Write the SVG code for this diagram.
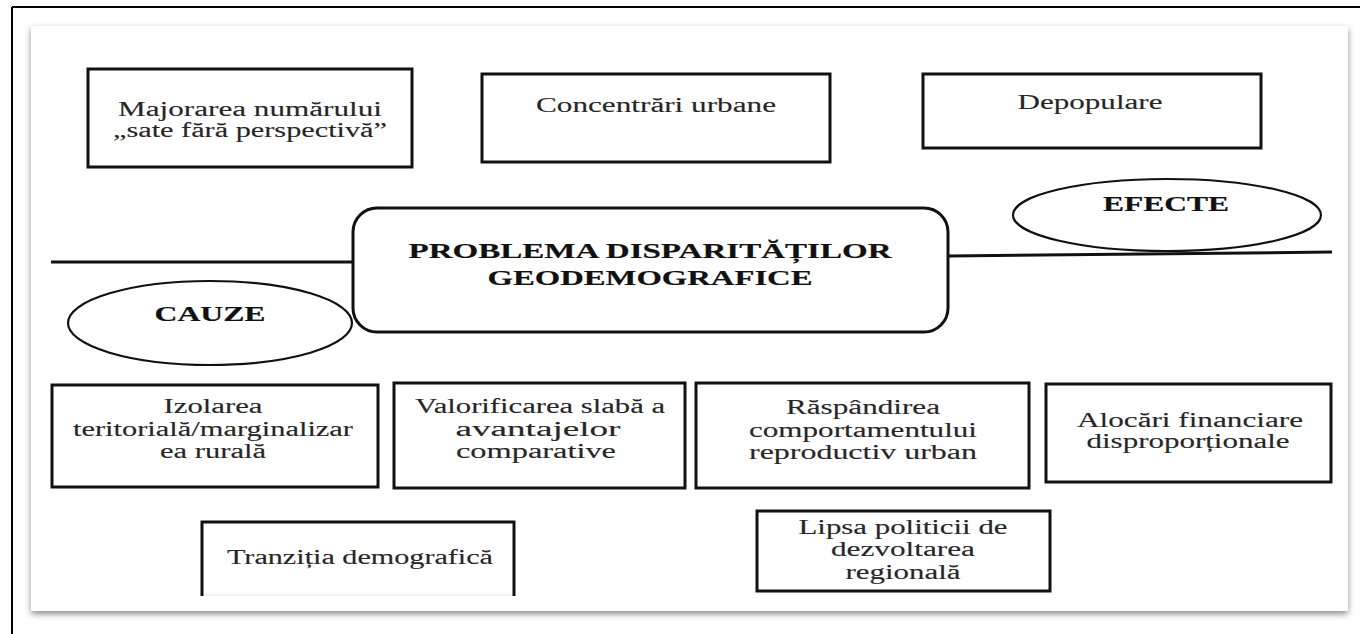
<svg xmlns="http://www.w3.org/2000/svg" width="1360" height="634" viewBox="0 0 1360 634" font-family="Liberation Serif, DejaVu Serif, serif">
<defs>
<filter id="sh" x="-3%" y="-3%" width="106%" height="108%">
<feDropShadow dx="0" dy="3" stdDeviation="3" flood-color="#000" flood-opacity="0.45"/>
</filter>
<clipPath id="clipLipsa"><rect x="757" y="511" width="293" height="73"/></clipPath>
</defs>
<style>
.box{fill:#fff;stroke:#111;stroke-width:3}
.ell{fill:#fff;stroke:#111;stroke-width:2.2}
.t{font-family:'Liberation Serif','DejaVu Serif',serif;font-size:20px;fill:#262626;stroke:#262626;stroke-width:0.12;text-anchor:middle}
.b{font-family:'Liberation Serif','DejaVu Serif',serif;font-size:21px;font-weight:bold;fill:#111;stroke:#111;stroke-width:0.2;text-anchor:middle}
.ln{stroke:#111;stroke-width:3;fill:none}
</style>
<rect width="1360" height="634" fill="#fff"/>
<path d="M12 7 H1360 M12 7 V634" stroke="#000" stroke-width="2" fill="none"/>
<rect x="31" y="26" width="1317" height="585" fill="#fff" filter="url(#sh)"/>

<g id="connectors">
<path class="ln" d="M51 262 H353"/>
<path class="ln" d="M949 256 L1332 252"/>
</g>

<g id="n-majorarea">
<rect class="box" x="88" y="69" width="324" height="98"/>
<text class="t" x="250" y="116" textLength="264" lengthAdjust="spacingAndGlyphs">Majorarea numărului</text>
<text class="t" x="250" y="137" textLength="274" lengthAdjust="spacingAndGlyphs">„sate fără perspectivă”</text>
</g>

<g id="n-concentrari">
<rect class="box" x="482" y="74" width="348" height="88"/>
<text class="t" x="656" y="112" textLength="240" lengthAdjust="spacingAndGlyphs">Concentrări urbane</text>
</g>

<g id="n-depopulare">
<rect class="box" x="923" y="74" width="338" height="74"/>
<text class="t" x="1090" y="109" textLength="145" lengthAdjust="spacingAndGlyphs">Depopulare</text>
</g>

<g id="n-efecte">
<ellipse class="ell" cx="1167" cy="215" rx="154" ry="36"/>
<text class="b" x="1166" y="211" textLength="126" lengthAdjust="spacingAndGlyphs">EFECTE</text>
</g>

<g id="n-problema">
<rect class="box" x="353" y="208" width="595" height="124" rx="24" ry="24"/>
<text class="b" x="650" y="258" textLength="483" lengthAdjust="spacingAndGlyphs">PROBLEMA DISPARITĂȚILOR</text>
<text class="b" x="650" y="285" textLength="325" lengthAdjust="spacingAndGlyphs">GEODEMOGRAFICE</text>
</g>

<g id="n-cauze">
<ellipse class="ell" cx="210" cy="323" rx="142" ry="42"/>
<text class="b" x="210" y="321" textLength="111" lengthAdjust="spacingAndGlyphs">CAUZE</text>
</g>

<g id="n-izolarea">
<rect class="box" x="52" y="385" width="326" height="102"/>
<text class="t" x="213" y="413" textLength="99" lengthAdjust="spacingAndGlyphs">Izolarea</text>
<text class="t" x="213" y="436" textLength="280" lengthAdjust="spacingAndGlyphs">teritorială/marginalizar</text>
<text class="t" x="213" y="458" textLength="106" lengthAdjust="spacingAndGlyphs">ea rurală</text>
</g>

<g id="n-valorificarea">
<rect class="box" x="394" y="383" width="291" height="105"/>
<text class="t" x="540" y="413" textLength="250" lengthAdjust="spacingAndGlyphs">Valorificarea slabă a</text>
<text class="t" x="538" y="436" textLength="165" lengthAdjust="spacingAndGlyphs">avantajelor</text>
<text class="t" x="536" y="458" textLength="160" lengthAdjust="spacingAndGlyphs">comparative</text>
</g>

<g id="n-raspandirea">
<rect class="box" x="696" y="383" width="333" height="105"/>
<text class="t" x="863" y="414" textLength="154" lengthAdjust="spacingAndGlyphs">Răspândirea</text>
<text class="t" x="863" y="437" textLength="228" lengthAdjust="spacingAndGlyphs">comportamentului</text>
<text class="t" x="863" y="459" textLength="228" lengthAdjust="spacingAndGlyphs">reproductiv urban</text>
</g>

<g id="n-alocari">
<rect class="box" x="1046" y="384" width="285" height="98"/>
<text class="t" x="1190" y="427" textLength="226" lengthAdjust="spacingAndGlyphs">Alocări financiare</text>
<text class="t" x="1188" y="448" textLength="203" lengthAdjust="spacingAndGlyphs">disproporționale</text>
</g>

<g id="n-tranzitia">
<path d="M202 595 H514" stroke="#e4e4e4" stroke-width="1" fill="none"/>
<path d="M202 596 V522 H514 V596" fill="none" stroke="#111" stroke-width="3"/>
<text class="t" x="360" y="564" textLength="266" lengthAdjust="spacingAndGlyphs">Tranziția demografică</text>
</g>

<g id="n-lipsa">
<rect class="box" x="757" y="511" width="293" height="80"/>
<g clip-path="url(#clipLipsa)">
<text class="t" x="903" y="534" textLength="209" lengthAdjust="spacingAndGlyphs">Lipsa politicii de</text>
<text class="t" x="903" y="556" textLength="144" lengthAdjust="spacingAndGlyphs">dezvoltarea</text>
<text class="t" x="903" y="579" textLength="115" lengthAdjust="spacingAndGlyphs">regională</text>
</g>
</g>
</svg>
